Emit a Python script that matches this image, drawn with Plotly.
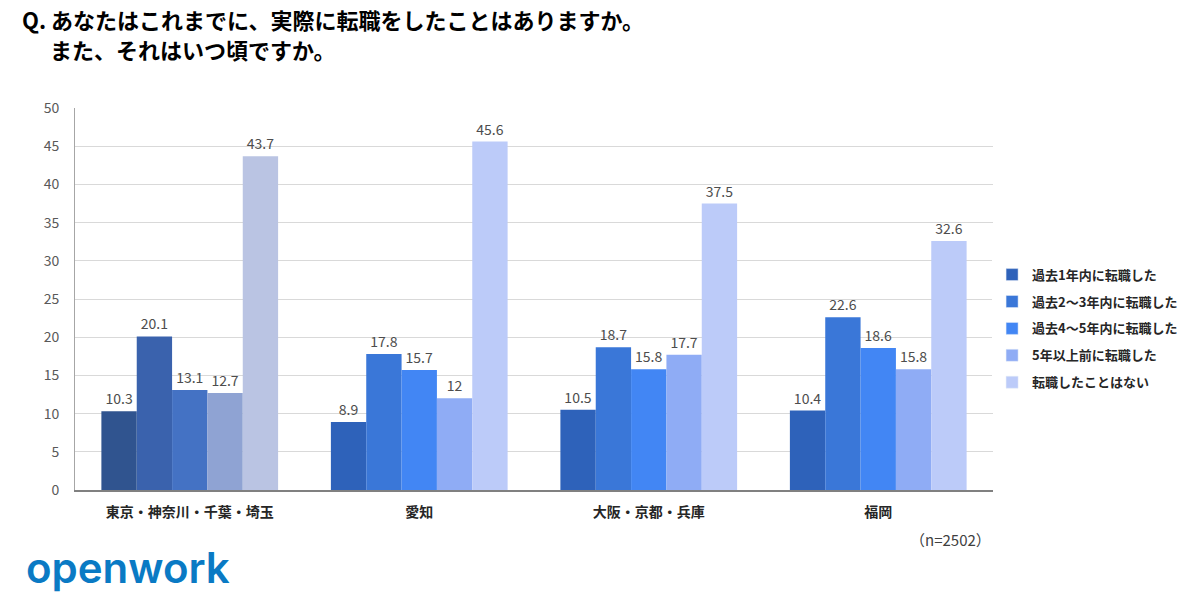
import plotly.graph_objects as go

# regions (x axis) and answer categories (series)
regions = ['東京・神奈川・千葉・埼玉', '愛知', '大阪・京都・兵庫', '福岡']
series_names = ['過去1年内に転職した', '過去2～3年内に転職した', '過去4～5年内に転職した',
                '5年以上前に転職した', '転職したことはない']

past_1y = [10.3, 8.9, 10.5, 10.4]
past_2_3y = [20.1, 17.8, 18.7, 22.6]
past_4_5y = [13.1, 15.7, 15.8, 18.6]
over_5y = [12.7, 12, 17.7, 15.8]
never = [43.7, 45.6, 37.5, 32.6]

y_ticks = [0, 5, 10, 15, 20, 25, 30, 35, 40, 45, 50]

# first group is drawn with a muted palette in the original
colors_main = ['#2E62BA', '#3A77D8', '#4286F4', '#8FACF5', '#BCCBF9']
colors_first = ['#30548F', '#3A62AD', '#4472C4', '#8FA3D3', '#BAC4E3']

JP = 'Noto Sans CJK JP'

fig = go.Figure()
all_values = [past_1y, past_2_3y, past_4_5y, over_5y, never]
for i, (name, vals) in enumerate(zip(series_names, all_values)):
    bar_colors = [colors_first[i]] + [colors_main[i]] * (len(regions) - 1)
    fig.add_trace(go.Bar(
        x=regions, y=vals, name=name,
        marker=dict(color=bar_colors, line=dict(width=0)),
        text=[f'{v:g}' for v in vals],
        textposition='outside',
        constraintext='none',
        textfont=dict(family=JP, size=14, color='#4d4d4d'),
        cliponaxis=False,
        legendgroup=f'g{i}',
        showlegend=False,
    ))
    # legend entry with the main colour (kept on a hidden axis so it does not take a bar slot)
    fig.add_trace(go.Bar(
        x=[None], y=[None], name=name,
        marker=dict(color=colors_main[i]),
        xaxis='x2', yaxis='y2',
        legendgroup=f'g{i}', showlegend=True,
    ))

fig.update_layout(
    width=1201, height=596,
    margin=dict(l=75, r=208, t=108, b=106),
    plot_bgcolor='white', paper_bgcolor='white',
    barmode='group', bargap=0.23, bargroupgap=0,
    font=dict(family=JP, color='#404040'),
    legend=dict(
        x=0.999, y=0.603, xanchor='left', yanchor='top',
        font=dict(family=JP, size=13, color='#262626', weight='bold'),
        traceorder='grouped', tracegroupgap=7,
        itemwidth=30,
    ),
    xaxis2=dict(overlaying='x', visible=False),
    yaxis2=dict(overlaying='y', visible=False),
)

fig.update_xaxes(
    tickmode='array', tickvals=regions,
    ticktext=[f'<b>{r}</b>' for r in regions],
    tickfont=dict(family=JP, size=14, color='#262626'),
    showline=True, linecolor='#808080', linewidth=2,
    ticks='', showgrid=False, ticklabelstandoff=8,
    selector=dict(overlaying=None),
)
fig.update_yaxes(
    range=[0, 50], tickvals=y_ticks,
    tickfont=dict(family=JP, size=14, color='#595959'),
    showgrid=True, gridcolor='#D9D9D9', gridwidth=1,
    showline=True, linecolor='#A6A6A6', linewidth=1,
    zeroline=False, ticks='', ticklabelstandoff=12,
)

annotations = [
    dict(text='<b>Q. あなたはこれまでに、実際に転職をしたことはありますか。</b>',
         x=20, y=19, font=dict(family=JP, size=22, color='#000000')),
    dict(text='<b>また、それはいつ頃ですか。</b>',
         x=48, y=49, font=dict(family=JP, size=22, color='#000000')),
]
for a in annotations:
    fig.add_annotation(
        text=a['text'], xref='paper', yref='paper',
        x=(a['x'] - 75) / 918, y=(490 - a['y']) / 382,
        xanchor='left', yanchor='middle', showarrow=False, font=a['font'],
    )

fig.add_annotation(
    text='（n=2502）', xref='paper', yref='paper',
    x=1.0, y=(490 - 539) / 382, xanchor='right', yanchor='middle',
    showarrow=False, font=dict(family=JP, size=15, color='#404040'),
)
fig.add_annotation(
    text='openwork', xref='paper', yref='paper',
    x=(24 - 75) / 918, y=(490 - 567) / 382, xanchor='left', yanchor='middle',
    showarrow=False, font=dict(family='Inter', size=42, color='#0A7AC4', weight=600),
)

fig.write_html('out.html', config={'displayModeBar': False},
               post_script="document.body.style.margin='0';")
